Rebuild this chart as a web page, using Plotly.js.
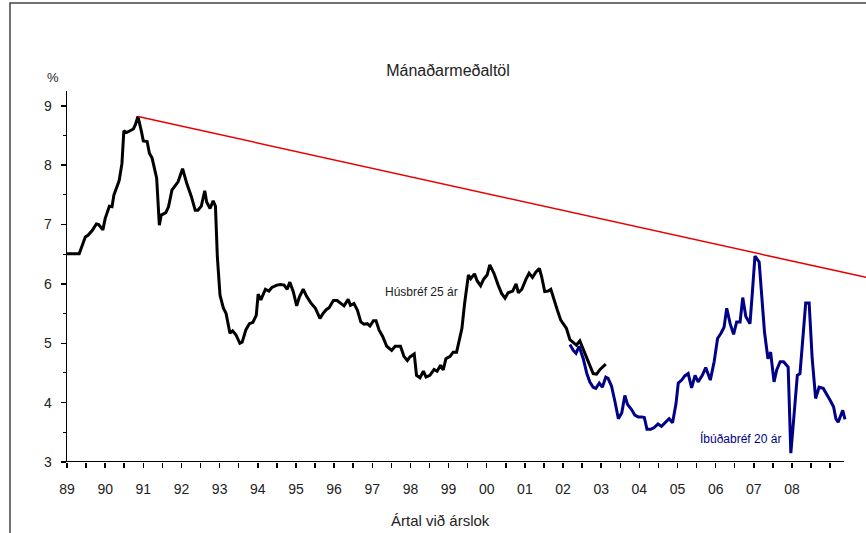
<!DOCTYPE html>
<html>
<head>
<meta charset="utf-8">
<script src="https://cdn.plot.ly/plotly-3.0.1.min.js"></script>
<style>html,body{margin:0;padding:0;background:#fff;}#chart{width:866px;height:533px;}</style>
</head>
<body>
<div id="chart"></div>
<script>
// Húsbréf 25 ár (monthly averages, decimal year)
const husX = [1989.00,1989.32,1989.48,1989.55,1989.66,1989.77,1989.83,1989.94,1990.00,1990.11,1990.18,1990.23,1990.34,1990.37,1990.44,1990.49,1990.56,1990.67,1990.74,1990.79,1990.86,1990.95,1991.00,1991.10,1991.16,1991.23,1991.35,1991.42,1991.47,1991.59,1991.66,1991.75,1991.86,1991.91,1992.03,1992.14,1992.26,1992.36,1992.43,1992.52,1992.61,1992.66,1992.75,1992.83,1992.89,1992.94,1993.01,1993.10,1993.17,1993.27,1993.34,1993.43,1993.53,1993.59,1993.69,1993.78,1993.87,1993.96,1994.01,1994.08,1994.20,1994.29,1994.37,1994.50,1994.60,1994.69,1994.77,1994.84,1994.93,1995.02,1995.09,1995.19,1995.28,1995.39,1995.51,1995.63,1995.72,1995.80,1995.87,1995.98,1996.08,1996.17,1996.26,1996.37,1996.43,1996.52,1996.61,1996.70,1996.78,1996.87,1996.94,1997.03,1997.10,1997.18,1997.27,1997.38,1997.51,1997.60,1997.74,1997.83,1997.92,1997.99,1998.10,1998.16,1998.25,1998.34,1998.41,1998.51,1998.62,1998.70,1998.79,1998.86,1998.93,1999.04,1999.12,1999.21,1999.28,1999.35,1999.42,1999.52,1999.58,1999.68,1999.75,1999.84,1999.92,2000.01,2000.08,2000.19,2000.30,2000.39,2000.48,2000.56,2000.68,2000.77,2000.83,2000.92,2001.03,2001.11,2001.20,2001.29,2001.38,2001.44,2001.52,2001.61,2001.68,2001.77,2001.85,2001.94,2002.02,2002.09,2002.18,2002.27,2002.35,2002.44,2002.53,2002.62,2002.70,2002.79,2002.88,2002.97,2003.12];
const husY = [6.51,6.51,6.79,6.82,6.90,7.01,7.00,6.91,7.10,7.31,7.30,7.50,7.69,7.75,8.03,8.58,8.55,8.59,8.61,8.68,8.82,8.57,8.41,8.40,8.20,8.12,7.78,6.99,7.16,7.20,7.30,7.58,7.69,7.72,7.94,7.69,7.47,7.24,7.24,7.31,7.57,7.38,7.27,7.40,7.31,6.46,5.81,5.59,5.50,5.17,5.21,5.14,5.00,5.02,5.23,5.33,5.35,5.47,5.83,5.73,5.91,5.88,5.94,5.98,5.99,5.98,5.91,6.03,5.87,5.63,5.78,5.91,5.79,5.68,5.59,5.42,5.51,5.57,5.60,5.72,5.72,5.68,5.63,5.74,5.64,5.67,5.56,5.36,5.32,5.33,5.29,5.38,5.38,5.22,5.12,4.95,4.88,4.95,4.95,4.78,4.71,4.77,4.82,4.46,4.42,4.53,4.43,4.46,4.56,4.53,4.63,4.55,4.74,4.78,4.85,4.85,5.05,5.25,5.67,6.15,6.09,6.17,6.05,5.97,6.08,6.15,6.32,6.18,5.98,5.84,5.76,5.85,5.88,6.00,5.85,5.91,6.08,6.18,6.11,6.20,6.26,6.12,5.87,5.88,5.91,5.70,5.56,5.39,5.32,5.25,5.06,5.01,4.97,5.04,4.90,4.76,4.63,4.49,4.48,4.56,4.65];

// Íbúðabréf 20 ár
const ibuX = [2002.18,2002.27,2002.34,2002.42,2002.53,2002.62,2002.70,2002.79,2002.86,2002.95,2003.03,2003.12,2003.18,2003.27,2003.36,2003.45,2003.54,2003.62,2003.69,2003.80,2003.88,2003.97,2004.06,2004.13,2004.20,2004.30,2004.39,2004.49,2004.58,2004.69,2004.78,2004.87,2004.96,2005.02,2005.11,2005.19,2005.28,2005.37,2005.46,2005.54,2005.65,2005.74,2005.86,2005.96,2006.05,2006.14,2006.22,2006.29,2006.38,2006.47,2006.55,2006.64,2006.71,2006.79,2006.90,2006.96,2007.03,2007.14,2007.20,2007.28,2007.37,2007.44,2007.53,2007.60,2007.69,2007.78,2007.90,2007.97,2008.05,2008.14,2008.21,2008.27,2008.36,2008.45,2008.53,2008.62,2008.71,2008.82,2008.91,2009.00,2009.09,2009.15,2009.21,2009.33,2009.39];
const ibuY = [4.98,4.88,4.83,4.95,4.74,4.50,4.35,4.26,4.24,4.33,4.26,4.43,4.41,4.28,4.02,3.73,3.83,4.12,3.97,3.88,3.79,3.76,3.76,3.75,3.55,3.55,3.58,3.64,3.60,3.67,3.73,3.66,3.98,4.33,4.38,4.45,4.49,4.25,4.46,4.35,4.46,4.59,4.38,4.69,5.08,5.17,5.27,5.59,5.33,5.15,5.36,5.36,5.77,5.45,5.33,5.84,6.47,6.37,5.84,5.19,4.74,4.85,4.35,4.55,4.69,4.69,4.60,3.15,3.76,4.46,4.49,4.94,5.68,5.68,4.74,4.07,4.26,4.24,4.15,4.04,3.93,3.73,3.67,3.87,3.72];

// Trend line (red)
const trendX = [1990.86, 2009.94];
const trendY = [8.82, 6.11];

// Axis labels
const yearTicks = [1989,1990,1991,1992,1993,1994,1995,1996,1997,1998,1999,2000,2001,2002,2003,2004,2005,2006,2007,2008];
const yearLabels = ['89','90','91','92','93','94','95','96','97','98','99','00','01','02','03','04','05','06','07','08'];

const FONT = 'Liberation Sans, Arial, sans-serif';

// half-year tick positions with labels on whole years
const tickvals = [], ticktext = [];
for (let v = 1989; v <= 2009.001; v += 0.5) {
  tickvals.push(v);
  const i = yearTicks.indexOf(v);
  ticktext.push(i >= 0 ? yearLabels[i] : '');
}

const traces = [
  {x: husX, y: husY, type: 'scatter', mode: 'lines', name: 'Húsbréf 25 ár',
   line: {color: '#000000', width: 3}},
  {x: ibuX, y: ibuY, type: 'scatter', mode: 'lines', name: 'Íbúðabréf 20 ár',
   line: {color: '#000088', width: 3}},
  {x: trendX, y: trendY, type: 'scatter', mode: 'lines', name: 'trend',
   line: {color: '#e80000', width: 1.5}}
];

const layout = {
  width: 866, height: 533,
  margin: {l: 67, r: 0, t: 91, b: 71},
  paper_bgcolor: '#ffffff', plot_bgcolor: '#ffffff',
  showlegend: false,
  font: {family: FONT, size: 14, color: '#222'},
  title: {text: 'Mánaðarmeðaltöl', font: {family: FONT, size: 16, color: '#222'},
          x: 448/866, xanchor: 'center', xref: 'container', y: 1 - 70/533, yanchor: 'middle', yref: 'container'},
  xaxis: {
    range: [1989, 2009.94], showgrid: false, zeroline: false, showline: false,
    tickmode: 'array', tickvals: tickvals, ticktext: ticktext,
    ticks: 'outside', ticklen: 5, tickwidth: 1.5, tickcolor: '#000',
    ticklabelstandoff: 9,
    tickfont: {family: FONT, size: 14, color: '#222'},
    fixedrange: true
  },
  yaxis: {
    range: [3, 9.25], dtick: 1, showgrid: false, zeroline: false,
    showline: true, linecolor: '#000', linewidth: 1.5,
    ticks: 'outside', ticklen: 5, tickwidth: 1.5, tickcolor: '#000',
    ticklabelstandoff: 6,
    minor: {dtick: 0.5, ticks: 'outside', ticklen: 3, tickwidth: 1, tickcolor: '#000'},
    tickfont: {family: FONT, size: 14, color: '#222'},
    fixedrange: true
  },
  shapes: [
    // x axis line ending before the plot edge
    {type: 'line', xref: 'x', yref: 'y', x0: 1989, x1: 2009.36, y0: 3, y1: 3,
     line: {color: '#000', width: 2}},
    // outer chart frame
    {type: 'rect', xref: 'paper', yref: 'paper', x0: (10-67)/799, x1: 1.1, y0: -0.4, y1: (462-3)/371,
     line: {color: '#444', width: 1.5}, fillcolor: 'rgba(0,0,0,0)'}
  ],
  annotations: [
    {text: '%', xref: 'paper', yref: 'paper', x: (53-67)/799, y: (462-77)/371,
     xanchor: 'center', yanchor: 'middle',
     showarrow: false, font: {family: FONT, size: 13, color: '#222'}},
    {text: 'Ártal við árslok', xref: 'paper', yref: 'paper', x: (440-67)/799, y: (462-520)/371,
     xanchor: 'center', yanchor: 'middle',
     showarrow: false, font: {family: FONT, size: 15, color: '#222'}},
    {text: 'Húsbréf 25 ár', xref: 'x', yref: 'y', x: 1998.28, y: 5.86,
     showarrow: false, font: {family: FONT, size: 12, color: '#222'}},
    {text: 'Íbúðabréf 20 ár', xref: 'x', yref: 'y', x: 2006.64, y: 3.40,
     showarrow: false, font: {family: FONT, size: 12, color: '#000088'}}
  ]
};

Plotly.newPlot('chart', traces, layout, {staticPlot: true, displayModeBar: false});
</script>
</body>
</html>
